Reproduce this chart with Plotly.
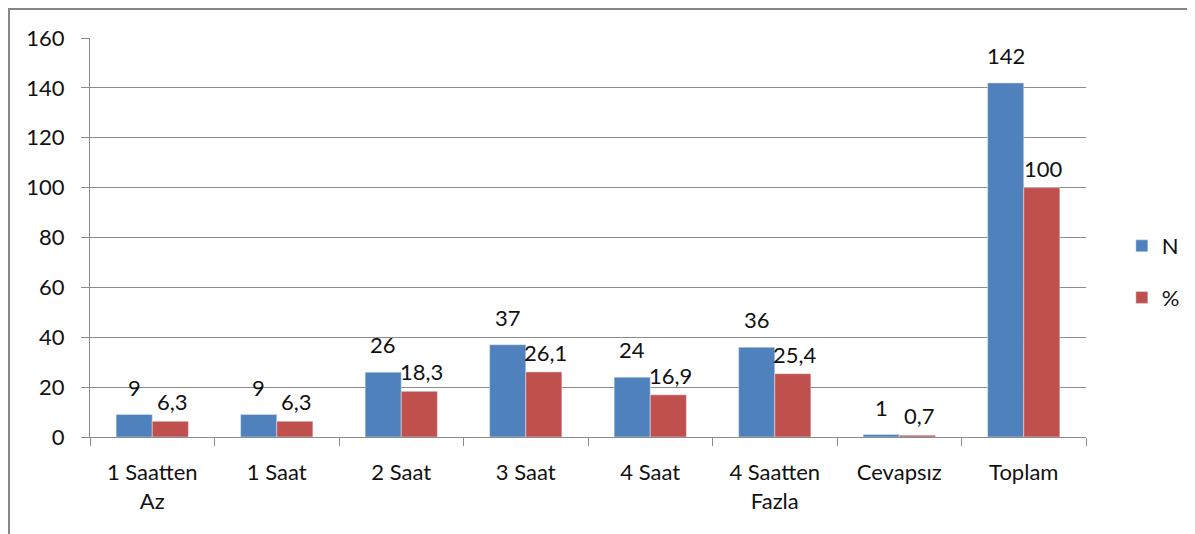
import plotly.graph_objects as go

categories = ["1 Saatten<br>Az", "1 Saat", "2 Saat", "3 Saat", "4 Saat", "4 Saatten<br>Fazla", "Cevapsız", "Toplam"]
n_values = [9, 9, 26, 37, 24, 36, 1, 142]
pct_values = [6.3, 6.3, 18.3, 26.1, 16.9, 25.4, 0.7, 100]
y_ticks = [0, 20, 40, 60, 80, 100, 120, 140, 160]

BLUE = "#4F81BD"
RED = "#C0504D"
FONT = "Lato"
GRID = "#8C8C8C"
TXT = "#111111"
FS = 22

def fmt(v):
    s = f"{v:g}"
    return s.replace(".", ",")

fig = go.Figure()
fig.add_trace(go.Bar(x=categories, y=n_values, name="N", marker_color=BLUE,
                     legendgroup="a"))
fig.add_trace(go.Bar(x=categories, y=pct_values, name="%", marker_color=RED,
                     legendgroup="b"))

annotations = []
for cat, v in zip(categories, n_values):
    annotations.append(dict(x=cat, y=v, text=fmt(v), showarrow=False, xref="x", yref="y",
                            xshift=-18, yshift=12, yanchor="bottom",
                            font=dict(family=FONT, size=FS, color=TXT)))
for cat, v in zip(categories, pct_values):
    annotations.append(dict(x=cat, y=v, text=fmt(v), showarrow=False, xref="x", yref="y",
                            xshift=20, yshift=4, yanchor="bottom",
                            font=dict(family=FONT, size=FS, color=TXT)))

fig.update_layout(
    width=1195, height=534,
    margin=dict(l=82, r=117, t=30, b=105),
    paper_bgcolor="white", plot_bgcolor="white",
    barmode="group", bargap=0.42, bargroupgap=0,
    font=dict(family=FONT, size=FS, color=TXT),
    annotations=annotations,
    legend=dict(x=1.036, y=0.4135, xanchor="left", yanchor="middle",
                traceorder="grouped", tracegroupgap=20,
                font=dict(family=FONT, size=FS, color=TXT),
                itemwidth=30, bgcolor="rgba(0,0,0,0)"),
    shapes=[dict(type="rect", xref="paper", yref="paper",
                 x0=-0.0813, x1=1.1024, y0=-0.4, y1=1.0727,
                 line=dict(color="#868686", width=2), fillcolor="rgba(0,0,0,0)",
                 layer="below")],
)
fig.update_xaxes(showline=True, linecolor=GRID, linewidth=1, showgrid=False,
                 ticks="outside", tickson="boundaries", ticklen=8, tickcolor=GRID,
                 ticklabelstandoff=16,
                 tickfont=dict(family=FONT, size=FS, color=TXT))
fig.update_yaxes(range=[0, 160], tickvals=y_ticks, showline=True, linecolor=GRID, linewidth=1,
                 showgrid=True, gridcolor=GRID, gridwidth=1, zeroline=False,
                 ticks="outside", ticklen=8, tickcolor=GRID,
                 ticklabelstandoff=12,
                 tickfont=dict(family=FONT, size=FS, color=TXT))

fig.write_html("out.html")
